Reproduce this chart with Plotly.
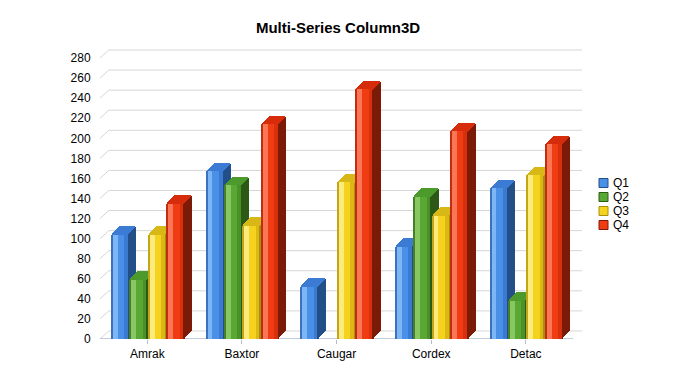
import plotly.graph_objects as go

# ---------------- data ----------------
CATEGORIES = ["Amrak", "Baxtor", "Caugar", "Cordex", "Detac"]
SERIES = ["Q1", "Q2", "Q3", "Q4"]
Q1 = [104, 167, 52, 92, 150]
Q2 = [59, 153, 0, 142, 38]
Q3 = [104, 113, 156, 123, 163]
Q4 = [135, 214, 249, 207, 194]
Y_TICKS = list(range(0, 281, 20))
VALUES = [Q1, Q2, Q3, Q4]

# ---------------- styles ----------------
# per series: main, light highlight, left edge, right shade, cap, side
STYLES = [
    dict(main="#4a90e6", light="#7cb6f5", edge="#3a72c0", dark="#3a7ad2", cap="#3b7bd4", side="#234f88"),
    dict(main="#5aa834", light="#88c862", edge="#467f28", dark="#4a9228", cap="#4c9a2c", side="#2c5a16"),
    dict(main="#f4d21e", light="#fbeb7c", edge="#c4a418", dark="#dcb814", cap="#d8b816", side="#a8900c"),
    dict(main="#f03c12", light="#fa7656", edge="#c02e10", dark="#d8300c", cap="#d62c0c", side="#7c1a08"),
]
FONT = "Liberation Sans, Arial, Helvetica, sans-serif"

# geometry (category units / value units)
SLOT = 0.1945
FACE = 0.174
GROUP_START = -(3 * SLOT + FACE) / 2
DXB = 0.0845   # bar depth in x (category units)
DXG = 0.093    # grid depth in x
DY = 8         # depth in value units
NSTRIP = 8

X = list(range(len(CATEGORIES)))
XMIN, XMAX = -0.5, len(CATEGORIES) - 0.5

fig = go.Figure()


def add_bar(heights, bases, offset, width, color, name=None, hover=False):
    fig.add_trace(go.Bar(
        x=X, y=heights, base=bases, offset=offset, width=width,
        marker=dict(color=color, line=dict(width=0)),
        showlegend=False, name=name,
        hoverinfo="x+y+name" if hover else "skip",
        hovertemplate=None,
    ))


for i, (name, vals) in enumerate(zip(SERIES, VALUES)):
    st = STYLES[i]
    off = GROUP_START + i * SLOT
    # side face (staircase of thin strips)
    for k in range(NSTRIP):
        f = (k + 0.5) / NSTRIP
        add_bar(vals, [DY * f for _ in vals], off + FACE + k * DXB / NSTRIP,
                DXB / NSTRIP, st["side"])
    # top cap
    for k in range(NSTRIP):
        f = (k + 0.5) / NSTRIP
        add_bar([DY / NSTRIP if v > 0 else 0 for v in vals],
                [v + DY * k / NSTRIP for v in vals],
                off + DXB * f, FACE, st["cap"])
    # front face with gradient strips
    add_bar(vals, [0] * len(vals), off, FACE, st["main"], name=name, hover=True)
    add_bar(vals, [0] * len(vals), off + FACE * 0.08, FACE * 0.30, st["light"])
    add_bar(vals, [0] * len(vals), off + FACE * 0.78, FACE * 0.22, st["dark"])
    add_bar(vals, [0] * len(vals), off, FACE * 0.07, st["edge"])

# back gridlines with 3D depth
shapes = []
for v in Y_TICKS:
    shapes.append(dict(
        type="path", xref="x", yref="y",
        path=f"M{XMIN},{v} L{XMIN + DXG},{v + DY} L{XMAX + DXG},{v + DY}",
        line=dict(color="#d6d6d6", width=1), layer="below"))
# front baseline
shapes.append(dict(type="line", xref="x", yref="y", x0=XMIN, x1=XMAX, y0=0, y1=0,
                   line=dict(color="#b2bdd0", width=1.5), layer="below"))

# custom legend (paper coords relative to the plot area)
PLOT_L, PLOT_R, PLOT_T, PLOT_B = 100, 118, 49, 36
PW = 700 - PLOT_L - PLOT_R
PH = 375 - PLOT_T - PLOT_B
annotations = []
for i, name in enumerate(SERIES):
    cy = 183 + 14 * i
    x0 = (599 - PLOT_L) / PW
    x1 = (608 - PLOT_L) / PW
    y0 = (375 - PLOT_B - (cy + 4.5)) / PH
    y1 = (375 - PLOT_B - (cy - 4.5)) / PH
    shapes.append(dict(type="rect", xref="paper", yref="paper", x0=x0, x1=x1, y0=y0, y1=y1,
                       fillcolor=STYLES[i]["main"], line=dict(color=STYLES[i]["side"], width=1)))
    annotations.append(dict(
        xref="paper", yref="paper", x=(611 - PLOT_L) / PW, y=(375 - PLOT_B - cy) / PH,
        xanchor="left", yanchor="middle", text=name, showarrow=False,
        font=dict(family=FONT, size=12, color="#000000")))

fig.update_layout(
    width=700, height=375,
    margin=dict(l=PLOT_L, r=PLOT_R, t=PLOT_T, b=PLOT_B, pad=0),
    paper_bgcolor="white", plot_bgcolor="white",
    barmode="overlay", bargap=0,
    showlegend=False,
    font=dict(family=FONT, size=12, color="#000000"),
    title=dict(text="<b>Multi-Series Column3D</b>", x=(338 - PLOT_L) / PW, xref="paper",
               xanchor="center", y=1 - 28 / 375, yref="container", yanchor="middle",
               font=dict(family=FONT, size=15, color="#000000")),
    xaxis=dict(range=[XMIN, XMAX + DXG], tickvals=X, ticktext=CATEGORIES,
               showgrid=False, zeroline=False, showline=False,
               ticks="outside", ticklen=4, tickcolor="#b2bdd0", tickwidth=1,
               tickfont=dict(family=FONT, size=12, color="#000000"), fixedrange=True),
    yaxis=dict(range=[0, 289], tickvals=Y_TICKS, showgrid=False, zeroline=False,
               showline=False, ticks="outside", ticklen=6, tickcolor="rgba(0,0,0,0)",
               tickfont=dict(family=FONT, size=12, color="#000000"), fixedrange=True),
    shapes=shapes, annotations=annotations,
)

fig.write_html("out.html")
